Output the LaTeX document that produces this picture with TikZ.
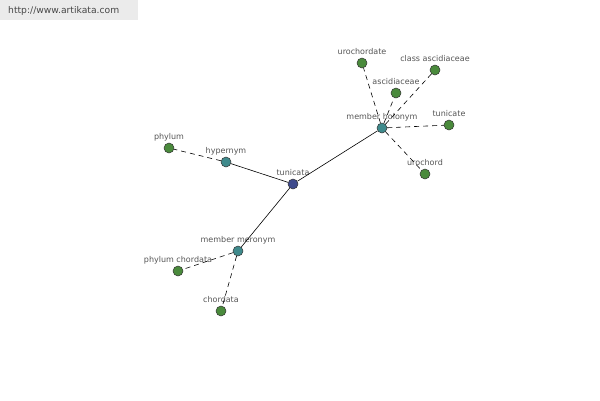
\documentclass[tikz,border=0pt]{standalone}
\usepackage{fontspec}
\setmainfont{DejaVu Sans}
\usepackage{tikz}

\definecolor{HubBlue}{HTML}{3E4A8C}
\definecolor{RelTeal}{HTML}{3F8A8C}
\definecolor{LeafGreen}{HTML}{4A8A3C}
\definecolor{LabelGray}{HTML}{555555}

\tikzset{
    dot/.style={circle, draw=black!80, line width=0.5pt, minimum size=10pt, inner sep=0pt},
    lbl/.style={text=LabelGray, font=\fontsize{8}{9}\selectfont, inner sep=0pt, anchor=base},
    solidedge/.style={draw=black, line width=0.6pt},
    dashedge/.style={draw=black, line width=0.6pt, dash pattern=on 5pt off 4pt},
}

\begin{document}
\begin{tikzpicture}[x=1pt, y=-1pt, label distance=3pt]
            % Setup and bounding box
            \useasboundingbox (0,0) rectangle (600,400);
            \fill [white] (0,0) rectangle (600,400);

            % Watermark
            \fill [black!8] (0,0) rectangle (138,20);
            \node (site) at (8,11) [anchor=west, text=black!72, font=\fontsize{9.2}{10}\selectfont, inner sep=0pt] {http://www.artikata.com};

            % Hub and relations
            \node (tunicata) at (293,184) [dot, fill=HubBlue,  label={[lbl]above:tunicata}] {};
            \node (hypernym) at (226,162) [dot, fill=RelTeal,  label={[lbl]above:hypernym}] {};
            \node (meronym)  at (238,251) [dot, fill=RelTeal,  label={[lbl]above:member meronym}] {};
            \node (holonym)  at (382,128) [dot, fill=RelTeal,  label={[lbl]above:member holonym}] {};

            % Leaves
            \node (phylum)      at (169,148) [dot, fill=LeafGreen, label={[lbl]above:phylum}] {};
            \node (phylumchord) at (178,271) [dot, fill=LeafGreen, label={[lbl]above:phylum chordata}] {};
            \node (chordata)    at (221,311) [dot, fill=LeafGreen, label={[lbl]above:chordata}] {};
            \node (urochordate) at (362,63)  [dot, fill=LeafGreen, label={[lbl]above:urochordate}] {};
            \node (classasc)    at (435,70)  [dot, fill=LeafGreen, label={[lbl]above:class ascidiaceae}] {};
            \node (ascidiaceae) at (396,93)  [dot, fill=LeafGreen, label={[lbl]above:ascidiaceae}] {};
            \node (tunicate)    at (449,125) [dot, fill=LeafGreen, label={[lbl]above:tunicate}] {};
            \node (urochord)    at (425,174) [dot, fill=LeafGreen, label={[lbl]above:urochord}] {};

            % Edges
            \foreach \r in {hypernym, meronym, holonym}
                \draw [solidedge] (tunicata) -- (\r);
            \foreach \r/\l in {hypernym/phylum, meronym/phylumchord, meronym/chordata,
                               holonym/urochordate, holonym/classasc, holonym/ascidiaceae,
                               holonym/tunicate, holonym/urochord}
                \draw [dashedge] (\r) -- (\l);
        \end{tikzpicture}
\end{document}
